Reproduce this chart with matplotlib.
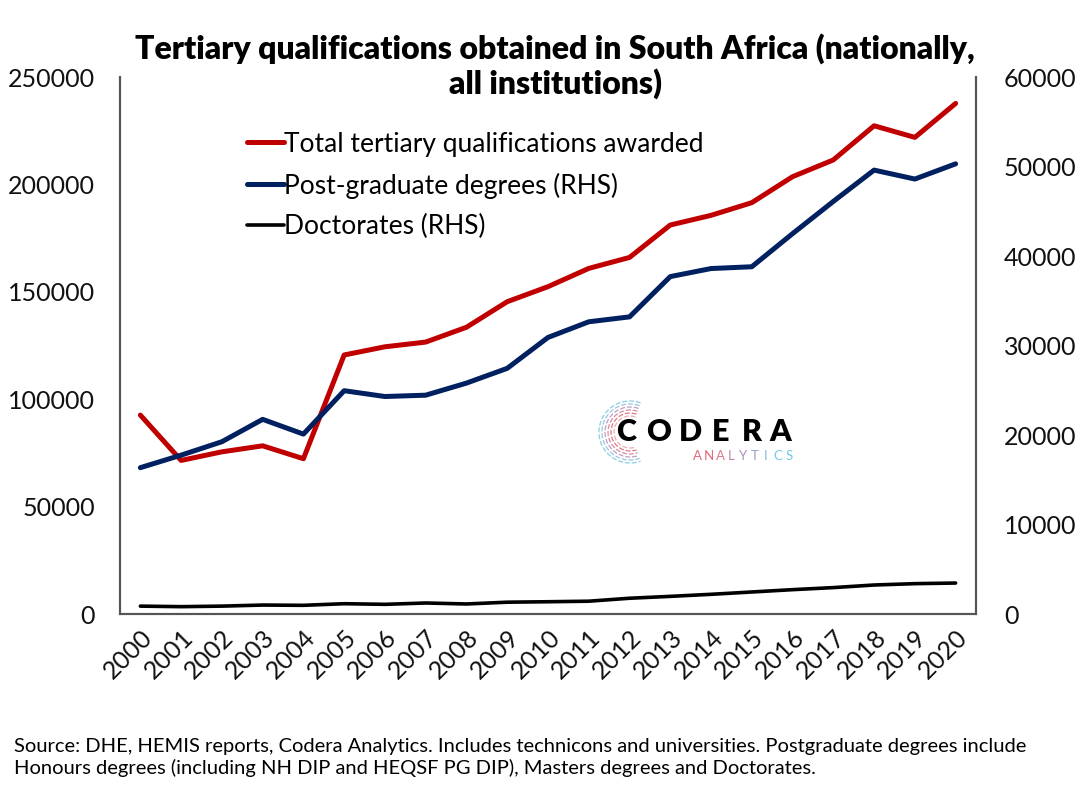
import matplotlib
matplotlib.use("Agg")
import matplotlib.pyplot as plt
from matplotlib.patches import Arc

plt.rcParams["font.family"] = ["Lato", "DejaVu Sans"]

years = [str(y) for y in range(2000, 2021)]
total_quals = [92600, 71500, 75500, 78300, 72300, 120600, 124400, 126600, 133500,
               145400, 152400, 160900, 166000, 181100, 185600, 191500, 203600,
               211400, 227300, 221900, 237700]
postgrad = [16350, 17750, 19250, 21750, 20100, 24950, 24300, 24450, 25800, 27450,
            30900, 32650, 33200, 37700, 38600, 38800, 42500, 46100, 49600, 48600,
            50300]
doctorates = [880, 820, 880, 1000, 970, 1150, 1080, 1230, 1120, 1320, 1370, 1430,
              1760, 1970, 2200, 2460, 2720, 2950, 3240, 3390, 3460]

W, H = 1080, 794
fig = plt.figure(figsize=(W / 100, H / 100), dpi=100)
ax = fig.add_axes([0.1111, 0.2267, 0.7926, 0.6763])
ax2 = ax.twinx()

x = list(range(len(years)))
l1, = ax.plot(x, total_quals, color="#C00000", lw=3.6, solid_capstyle="round",
              label="Total tertiary qualifications awarded")
l2, = ax2.plot(x, postgrad, color="#002060", lw=3.6, solid_capstyle="round",
               label="Post-graduate degrees (RHS)")
l3, = ax2.plot(x, doctorates, color="black", lw=2.6, solid_capstyle="round",
               label="Doctorates (RHS)")

ax.set_xlim(-0.5, len(years) - 0.5)
ax.set_ylim(0, 250000)
ax2.set_ylim(0, 60000)
ax.set_yticks(range(0, 250001, 50000))
ax2.set_yticks(range(0, 60001, 10000))
ax.set_xticks(x)
ax.set_xticklabels(years, rotation=45, ha="right", rotation_mode="anchor")

for a in (ax, ax2):
    a.tick_params(length=0, labelsize=18, colors="#111111")
    a.spines["top"].set_visible(False)
    for s in ("left", "right", "bottom"):
        a.spines[s].set_color("#555555")
        a.spines[s].set_linewidth(1.5)
ax.tick_params(axis="y", pad=18)
ax2.tick_params(axis="y", pad=20)
ax.tick_params(axis="x", pad=8)

leg = ax.legend(handles=[l1, l2, l3], loc="upper left", bbox_to_anchor=(0.136, 0.918),
                frameon=False, fontsize=19, handlelength=1.4, handletextpad=0.02,
                labelspacing=0.6, borderaxespad=0)

fig.text(0.514, 0.917, "Tertiary qualifications obtained in South Africa (nationally,\nall institutions)",
         ha="center", va="center", fontsize=23, fontweight="heavy", linespacing=1.18)

fig.text(0.013, 0.022,
         "Source: DHE, HEMIS reports, Codera Analytics. Includes technicons and universities. Postgraduate degrees include\n"
         "Honours degrees (including NH DIP and HEQSF PG DIP), Masters degrees and Doctorates.",
         ha="left", va="bottom", fontsize=14.5, linespacing=1.2)

# Codera logo (pixel positions in the figure)
def fx(px):
    return px / W


def fy(py):
    return 1 - py / H


arc_cols = ["#e8a0a8", "#e06070", "#d07890", "#b090b8", "#90b8d8", "#70c8e0"]
for i, r in enumerate([16, 19, 22, 25, 28, 31]):
    fig.add_artist(Arc((fx(630), fy(432)), 2 * r / W, 2 * r / H, theta1=75, theta2=285,
                       transform=fig.transFigure, color=arc_cols[i], lw=0.9,
                       ls=(0, (4, 1.5)), alpha=0.85))
for ch, cx in zip("CODERA", [626.5, 658.5, 690, 721, 751.5, 780]):
    fig.text(fx(cx), fy(432), ch, fontsize=22, fontweight="heavy", ha="center",
             va="center", color="black")
cols = ["#e06a78", "#e06a78", "#d97a8a", "#c088a0", "#a890b8", "#98a0c8",
        "#88b8d8", "#78c8e0", "#70c8e0"]
for i, (ch, c) in enumerate(zip("ANALYTICS", cols)):
    fig.text(fx(697 + i * 11.5), fy(456.5), ch, fontsize=9.5, ha="center",
             va="center", color=c)

fig.savefig("out.png", dpi=100)
